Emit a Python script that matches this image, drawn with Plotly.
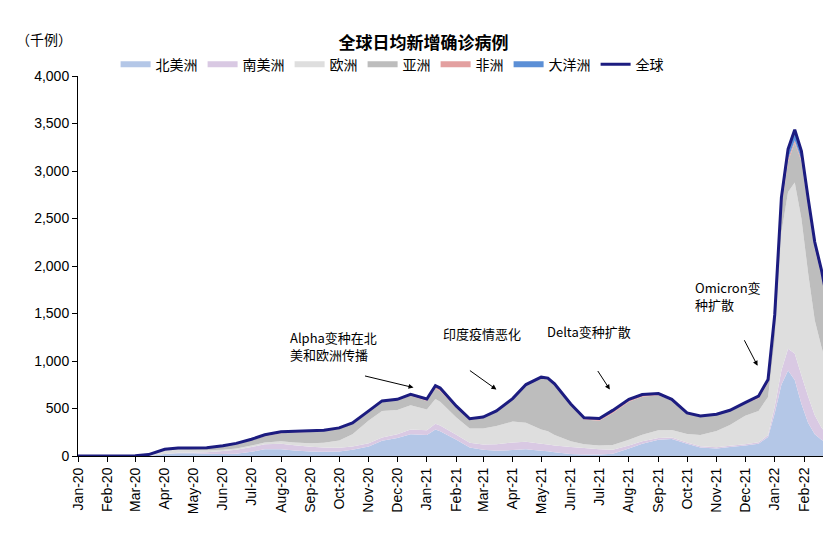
import plotly.graph_objects as go

dates = ["2020-01-01","2020-01-15","2020-02-01","2020-02-15","2020-03-01","2020-03-15","2020-04-01","2020-04-15",
         "2020-05-01","2020-05-15","2020-06-01","2020-06-15","2020-07-01","2020-07-15","2020-08-01","2020-08-15",
         "2020-09-01","2020-09-15","2020-10-01","2020-10-15","2020-11-01","2020-11-15","2020-12-01","2020-12-15",
         "2021-01-01","2021-01-10","2021-01-15","2021-02-01","2021-02-15","2021-03-01","2021-03-15","2021-04-01",
         "2021-04-15","2021-05-01","2021-05-08","2021-05-15","2021-06-01","2021-06-15","2021-07-01","2021-07-15",
         "2021-08-01","2021-08-15","2021-09-01","2021-09-15","2021-10-01","2021-10-15","2021-11-01","2021-11-15",
         "2021-12-01","2021-12-15","2021-12-25","2022-01-01","2022-01-08","2022-01-15","2022-01-22","2022-01-29",
         "2022-02-05","2022-02-12","2022-02-19","2022-02-26"]

north_america = [0,0,0,0,0,1,20,30,30,25,22,25,45,70,70,58,48,45,48,65,100,160,190,230,
                 220,280,260,170,90,65,55,62,70,55,50,40,20,15,15,25,80,130,170,180,130,90,80,95,
                 110,130,200,450,750,900,800,550,350,230,170,130]
south_america = [0,0,0,0,0,0,2,4,6,15,30,40,50,55,60,55,50,45,40,35,35,35,40,50,
                 50,60,60,55,50,55,70,80,80,75,70,70,75,70,55,40,30,25,20,15,12,12,12,12,
                 15,15,20,70,150,230,280,300,280,200,130,80]
europe = [0,0,0,0,1,10,40,35,25,20,15,15,15,18,25,30,35,50,75,130,240,280,255,255,
          220,260,250,180,150,170,190,220,200,150,140,110,60,40,40,50,60,70,80,80,90,120,170,220,
          300,330,400,700,1450,1650,1800,1650,1300,1000,850,700]
asia = [0,0,2,2,2,4,8,14,20,25,35,45,55,65,85,105,120,125,125,110,90,95,100,100,
        90,110,115,100,90,110,150,230,390,540,550,530,380,260,260,335,400,400,370,310,215,195,175,150,
        130,130,150,200,260,320,420,600,700,750,750,640]
africa = [0,0,0,0,0,0,0,1,2,3,5,8,12,15,15,12,10,7,8,8,10,10,12,15,
          20,30,30,20,12,10,10,12,12,10,10,10,12,18,25,30,25,20,15,10,5,3,2,2,
          5,20,25,35,40,30,25,20,15,12,10,8]
oceania = [0,0,0,0,0,0,0,1,0,0,0,0,0,0,1,0,0,0,0,0,0,0,0,0,
           0,0,0,0,0,0,0,0,0,0,0,0,0,0,0,0,1,2,2,2,2,2,1,2,
           2,5,10,30,70,100,110,90,70,60,50,40]
world = [0,0,2,2,3,15,70,85,83,88,107,133,177,223,256,260,263,272,296,348,475,580,597,650,
         600,740,715,525,392,410,475,604,752,830,820,760,547,403,395,480,596,647,657,597,454,422,440,481,
         562,630,805,1485,2720,3230,3435,3210,2715,2252,1960,1598]

series = [("北美洲", north_america, "#b4c7e7"), ("南美洲", south_america, "#d9c9e3"),
          ("欧洲", europe, "#dedede"), ("亚洲", asia, "#bdbdbd"),
          ("非洲", africa, "#e3a0a0"), ("大洋洲", oceania, "#5b8fd6")]

fig = go.Figure()
for name, vals, col in series:
    fig.add_trace(go.Scatter(x=dates, y=vals, name=name, stackgroup="one", mode="none",
                             fillcolor=col, line=dict(width=0)))
fig.add_trace(go.Scatter(x=dates, y=world, name="全球", mode="lines",
                         line=dict(color="#1c1c80", width=3)))

# arrow heads (date, value) and tail offsets in pixels
notes = [("2020-12-18", 720, -50, -12, "Alpha变种在北<br>美和欧洲传播", -125, -22),
         ("2021-03-15", 700, -28, -20, "印度疫情恶化", -55, -45),
         ("2021-07-12", 700, -13, -20, "Delta变种扩散", -65, -47),
         ("2021-12-14", 950, -14, -27, "Omicron变<br>种扩散", -65, -50)]
for x, y, ax, ay, t, dx, dy in notes:
    fig.add_annotation(x=x, y=y, ax=ax, ay=ay, showarrow=True, arrowhead=2, arrowsize=1,
                       arrowwidth=1, arrowcolor="black", text="")
    fig.add_annotation(x=x, y=y, xshift=dx, yshift=-dy, text=t, showarrow=False,
                       xanchor="left", yanchor="bottom", align="left",
                       font=dict(size=13, color="black"))

fig.add_annotation(xref="paper", yref="paper", x=-0.085, y=1.13, text="（千例）",
                   showarrow=False, xanchor="left", font=dict(size=14))

fig.update_layout(
    width=831, height=535, paper_bgcolor="white", plot_bgcolor="white",
    font=dict(family="Noto Sans CJK SC", size=14, color="black"),
    title=dict(text="<b>全球日均新增确诊病例</b>", x=0.5, y=0.945, xanchor="center", font=dict(size=17)),
    margin=dict(l=70, r=9, t=68, b=87),
    legend=dict(orientation="h", x=0.05, y=1.03, xanchor="left", yanchor="middle",
                font=dict(size=14), traceorder="normal"),
    showlegend=True,
)
fig.update_xaxes(type="date", range=["2020-01-01", "2022-02-28"], dtick="M1", tickformat="%b-%y",
                 tickangle=-90, showgrid=False, showline=True, linecolor="black", ticks="outside",
                 tickcolor="black", automargin=False, tickfont=dict(size=14, family="Liberation Sans"))
fig.update_yaxes(range=[0, 4000], dtick=500, tickformat=",", showgrid=False, showline=True,
                 linecolor="black", ticks="outside", tickcolor="black", automargin=False,
                 tickfont=dict(size=14, family="Liberation Sans"))

fig.write_html("out.html")
